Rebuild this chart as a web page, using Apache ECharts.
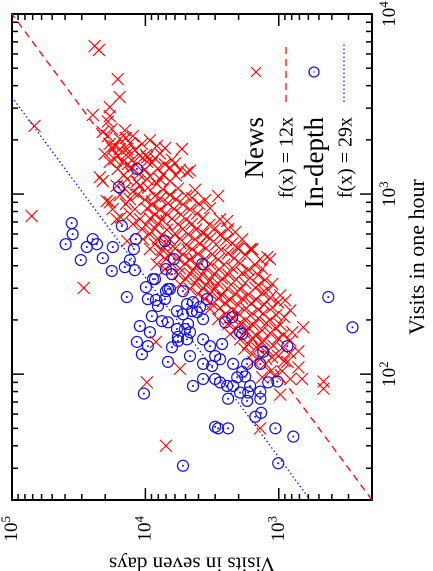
<!DOCTYPE html>
<html>
<head>
<meta charset="utf-8">
<script src="https://cdn.jsdelivr.net/npm/echarts@6/dist/echarts.min.js"></script>
<style>
html, body { margin: 0; padding: 0; background: #fff; overflow: hidden; }
/* the figure is a landscape plot turned a quarter turn to the left */
#turn { position: absolute; left: 0; top: 0; width: 571px; height: 433px;
  transform-origin: 0 0; transform: translateY(571px) rotate(-90deg); }
#chart { width: 571px; height: 433px; }
</style>
</head>
<body>
<div id="turn"><div id="chart"></div></div>
<script>
// ---------- DATA ----------
// [visits in one hour, visits in seven days]
var newsPoints = [
	[6640,24000],[6310,22300],[4350,16100],[3460,15600],[3040,18500],[2750,24800],[2530,19100],[2710,18500],[2390,67800],[2100,12400],[2100,19100],[1850,17000],[1900,10600],[1850,8200],[1780,5320],[1630,16100],[1510,18500],[1510,14800],[1510,9700],[1240,22000],[1180,20900],[1110,16400],[1110,11000],[1140,8200],[1180,6540],[1320,4870],[1350,4630],[1030,12400],[1780,13700],[1630,11000],[1600,9700],[2210,20900],[1780,17600],[1210,13700],[1170,11600],[1210,9700],[1210,7780],
	[914,19500],[825,17600],[726,16400],[900,18500],[742,15300],[548,13700],[408,8200],[514,6210],[755,71300],[301,29000],[975,2850],[708,2440],[615,2120],[447,1220],[495,1640],[505,2050],[585,3450],[435,1160],[435,1380],[495,1590],[182,655],[171,793],[134,713],[109,713],[94,670],[91,462],[83,462],[77,975],[104,942],[50,1380],[117,863],[103,1160],[114,1260],[117,1550],[151,8340],[90,9750],[40,7020],[107,5500],
	[2300,17860],[2260,14260],[2020,15550],[2050,14020],[1990,9250],[1900,18500],[1920,13080],[1780,15550],[1760,11990],[1800,7135],[1670,20200],[1690,13540],[1650,9910],[1680,7780],[1560,17000],[1540,12640],[1580,8480],[1550,6320],
	[1470,13540],[1455,11790],[1490,8940],[1462,7135],[1480,6000],
	[1380,16100],[1395,12850],[1370,10090],[1385,8055],[1400,6545],[1365,5505],
	[1275,14510],[1290,11190],[1260,9250],[1280,7390],[1270,5900],
	[1070,14260],[1085,9580],[1060,7390],[1075,5695],[1055,4245],
	[987,15550],[995,11390],[975,8480],[990,6545],[980,4960],
	[938,13080],[930,10090],[945,7780],[935,5900],[950,4470],[925,3570],
	[880,14020],[872,8940],[888,6775],[876,5225],[884,3960],
	[825,11990],[832,9740],[818,7780],[828,6105],[820,4630],[835,3275],
	[774,13080],[768,8480],[780,7015],[771,5410],[778,4100],
	[726,11000],[732,9250],[720,7515],[729,6320],[722,4960],[735,3695],[724,2755],
	[681,12420],[676,9910],[686,8055],[679,5695],[684,4470],[674,3330],
	[639,10620],[644,8480],[634,6895],[641,5225],[636,4170],[646,3000],[638,2400],
	[599,9250],[594,7515],[603,6000],[597,4790],[605,3695],[592,2755],
	[562,10440],[566,8055],[558,6545],[564,5505],[560,4245],[568,3275],[556,2480],[561,1880],
	[527,8480],[531,7015],[523,4960],[529,3895],[525,2950],[533,2235],
	[495,9250],[492,7515],[498,6000],[494,4470],[500,3510],[490,2705],[496,2015],[493,1580],
	[464,7780],[467,6545],[461,5225],[466,4030],[462,3160],[469,2400],[460,1785],
	[435,7015],[438,5695],[432,4630],[437,3570],[433,2850],[440,2160],
	[408,6320],[411,5050],[405,4100],[410,3275],[406,2570],[412,1950],[404,1500],
	[383,7135],[386,5505],[380,4395],[385,3510],[381,2800],[388,2235],[379,1695],[384,1330],
	[359,5695],[362,4630],[356,3760],[361,3055],[357,2400],[364,1880],[355,1425],
	[337,4960],[340,4030],[334,3275],[339,2660],[335,2085],[342,1640],[333,1265],
	[316,5505],[319,4245],[313,3510],[318,2850],[314,2275],[321,1785],[312,1425],[317,1120],
	[297,4630],[300,3695],[294,3055],[299,2440],[295,1950],[302,1500],[293,1200],
	[278,4030],[281,3275],[275,2660],[280,2125],[276,1695],[283,1330],[274,975],
	[261,3570],[264,2850],[258,2315],[263,1880],[259,1475],[266,1160],[257,894],
	[245,3160],[248,2525],[242,2015],[247,1610],[243,1285],[250,1010],
	[230,3275],[233,2755],[227,2200],[232,1755],[228,1425],[235,1120],[226,820],
	[215,2525],[218,2015],[212,1640],[217,1310],[213,1045],
	[202,2850],[205,2235],[199,1785],[204,1425],[200,1160],[207,909],
	[190,2400],[193,1950],[187,1555],[192,1240],[188,975],
	[178,2085],[181,1695],[175,1330],[180,1060],
	[167,2315],[170,1815],[164,1475],[169,1160],[165,925],
	[156,1950],[159,1580],[153,1285],[158,1010],[154,820],
	[147,1695],[150,1330],[144,1100],
	[138,1815],[141,1475],[135,1200],[140,940],
	[129,1580],[132,1240],[126,1010],[131,820],
	[121,1380],[124,1120],[118,909],
	[96,1330],[99,1060],[94,820]
];

var indepthPoints = [
	[1380,11580],[1094,15820],[690,35700],[664,15020],[599,35100],[527,39600],[508,27500],[562,24800],[527,23100],[508,17550],[430,30500],[441,20870],[374,17860],[562,11790],[495,12200],[430,13080],[393,14260],[378,11990],[337,8480],[304,9910],[268,13770],[261,9580],[258,8340],[239,8055],[297,6545],[289,7015],[210,8940],[185,11000],[197,7515],[194,6775],
	[548,7135],[435,6105],[383,7015],[359,6320],[224,5800],[408,3760],[337,8780],[297,6775],[289,5225],[261,7135],[245,4875],[251,4395],[236,3895],[261,3450],[224,4470],[221,4100],[215,5225],[190,4790],[202,3695],[178,5800],[178,5050],[171,4630],[161,5695],[156,4875],[141,6320],[126,4630],[156,3695],[143,3275],[147,2660],[194,2525],[207,2235],[167,1880],[133,1310],[143,863],
	[126,3000],[121,2755],[114,3695],[111,3160],[114,2200],[103,1880],[86,4395],[94,3695],[94,3000],[86,2200],[86,1640],[90,1200],[268,425],[182,280],[114,1375],[114,1725],[97,1785],[91,1025],[79,1695],[80,1375],[73,1375],[71,1725],[58,1500],[61,1355],[50,1060],[45,778],[32,1010],[171,1950],
	[90,2755],[86,2440],[79,1950],[73,2400],[51,3000],[50,2850],[50,2400],[31,5225],[96,2050],[151,11580],[129,10620],[143,9580],[171,9250],[117,6775],[153,5695],[78,10260]
];

// fitted lines y = slope * x (the red one is drawn at about 10x in the figure)
var fitRange = [20, 10000];
var newsSlope = 10;
var indepthSlope = 29;

// axis extents and ticks
var hourRange = [20, 10000];
var sevenRange = [200, 100000];
var hourMajor = [100, 1000];
var hourMinor = [30, 40, 50, 60, 70, 80, 90, 200, 300, 400, 500, 600, 700, 800, 900, 2000, 3000, 4000, 5000, 6000, 7000, 8000, 9000];
var sevenMajor = [1000, 10000];
var sevenMinor = [300, 400, 500, 600, 700, 800, 900, 2000, 3000, 4000, 5000, 6000, 7000, 8000, 9000, 20000, 30000, 40000, 50000, 60000, 70000, 80000, 90000];

var legendNames = ['News', 'f(x) = 12x', 'In-depth', 'f(x) = 29x'];

// ---------- CHART ----------
var RED = '#ff0000';
var BLUE = '#1212d8';
var FONT = '"Liberation Serif", "DejaVu Serif", serif';
var CROSS = 'path://M0,0L10,10M0,10L10,0';
var RING = 'path://M0,5A5,5,0,1,0,10,5A5,5,0,1,0,0,5ZM4.6,5A0.4,0.4,0,1,0,5.4,5A0.4,0.4,0,1,0,4.6,5Z';
var MAJOR_LEN = 12, MINOR_LEN = 6;
var GRID = {left: 71, right: 14, top: 12, bottom: 61};
var W = 571, H = 433;

var chart = echarts.init(document.getElementById('chart'), null, {renderer: 'canvas', devicePixelRatio: 2});

function powLabel(v) {
	var l = Math.log10(v);
	var e = Math.round(l);
	if (Math.abs(l - e) > 1e-6) return '';
	return '{b|10}{s|' + e + '}';
}

var labelRich = {
	b: {fontSize: 19, fontFamily: FONT, color: '#000', lineHeight: 24},
	s: {fontSize: 13, fontFamily: FONT, color: '#000', verticalAlign: 'top', lineHeight: 24}
};

function fitLine(slope) {
	return fitRange.map(function (x) { return [x, slope * x]; });
}

// inward ticks on all four sides, on the same log scale as the grid
function logFrac(v, range) {
	return (Math.log10(v) - Math.log10(range[0])) / (Math.log10(range[1]) - Math.log10(range[0]));
}

var tickGraphics = [];
var plotW = W - GRID.left - GRID.right, plotH = H - GRID.top - GRID.bottom;

function tickRect(x, y, w, h) {
	return {type: 'rect', shape: {x: x, y: y, width: w, height: h}, style: {fill: '#000'}, z: 100};
}

hourMajor.concat(hourMinor).forEach(function (v) {
	var len = hourMajor.indexOf(v) >= 0 ? MAJOR_LEN : MINOR_LEN;
	var x = GRID.left + logFrac(v, hourRange) * plotW;
	tickGraphics.push(tickRect(x - 0.75, H - GRID.bottom - len, 1.5, len));
	tickGraphics.push(tickRect(x - 0.75, GRID.top, 1.5, len));
});

sevenMajor.concat(sevenMinor).forEach(function (v) {
	var len = sevenMajor.indexOf(v) >= 0 ? MAJOR_LEN : MINOR_LEN;
	var y = H - GRID.bottom - logFrac(v, sevenRange) * plotH;
	tickGraphics.push(tickRect(GRID.left, y - 0.75, len, 1.5));
	tickGraphics.push(tickRect(W - GRID.right - len, y - 0.75, len, 1.5));
});

var keyGraphics = [
	{type: 'text', x: 454, y: 256, style: {text: legendNames[0], fontSize: 27, fontFamily: FONT, fill: '#000', align: 'right', verticalAlign: 'middle'}},
	{type: 'line', shape: {x1: 494, y1: 251, x2: 504, y2: 261}, style: {stroke: RED, lineWidth: 1.1}},
	{type: 'line', shape: {x1: 494, y1: 261, x2: 504, y2: 251}, style: {stroke: RED, lineWidth: 1.1}},
	{type: 'text', x: 454, y: 287, style: {text: legendNames[1], fontSize: 20, fontFamily: FONT, fill: '#000', align: 'right', verticalAlign: 'middle'}},
	{type: 'line', shape: {x1: 469, y1: 286, x2: 529, y2: 286}, style: {stroke: RED, lineWidth: 1.3, lineDash: [7, 5]}},
	{type: 'text', x: 454, y: 316, style: {text: legendNames[2], fontSize: 27, fontFamily: FONT, fill: '#000', align: 'right', verticalAlign: 'middle'}},
	{type: 'circle', shape: {cx: 499, cy: 314, r: 5}, style: {fill: 'none', stroke: BLUE, lineWidth: 1.2}},
	{type: 'circle', shape: {cx: 499, cy: 314, r: 0.7}, style: {fill: BLUE}},
	{type: 'text', x: 454, y: 346, style: {text: legendNames[3], fontSize: 20, fontFamily: FONT, fill: '#000', align: 'right', verticalAlign: 'middle'}},
	{type: 'line', shape: {x1: 469, y1: 344, x2: 529, y2: 344}, style: {stroke: BLUE, lineWidth: 1.3, lineDash: [1.5, 2.5]}}
];

var frameLine = {show: true, lineStyle: {color: '#000', width: 2}};

var option = {
	animation: false,
	backgroundColor: '#fff',
	grid: {left: GRID.left, right: GRID.right, top: GRID.top, bottom: GRID.bottom, containLabel: false, outerBoundsMode: 'none'},
	graphic: {elements: keyGraphics.concat(tickGraphics)},
	xAxis: [
		{
			type: 'log', min: hourRange[0], max: hourRange[1], position: 'bottom',
			name: 'Visits in one hour', nameLocation: 'middle', nameGap: 35,
			nameTextStyle: {fontSize: 22, fontFamily: FONT, color: '#000'},
			axisLine: frameLine, axisTick: {show: false}, splitLine: {show: false},
			axisLabel: {margin: 6, formatter: powLabel, rich: labelRich, showMinLabel: false}
		},
		{
			type: 'log', min: hourRange[0], max: hourRange[1], position: 'top',
			axisLine: frameLine, axisTick: {show: false}, splitLine: {show: false}, axisLabel: {show: false}
		}
	],
	yAxis: [
		{
			type: 'log', min: sevenRange[0], max: sevenRange[1], position: 'left',
			name: 'Visits in seven days', nameLocation: 'middle', nameGap: 38, nameRotate: 90,
			nameTextStyle: {fontSize: 21, fontFamily: FONT, color: '#000'},
			axisLine: frameLine, axisTick: {show: false}, splitLine: {show: false},
			axisLabel: {margin: 16, formatter: powLabel, rich: labelRich, showMinLabel: false}
		},
		{
			type: 'log', min: sevenRange[0], max: sevenRange[1], position: 'right',
			axisLine: frameLine, axisTick: {show: false}, splitLine: {show: false}, axisLabel: {show: false}
		}
	],
	series: [
		{
			name: legendNames[0], type: 'scatter', data: newsPoints,
			symbol: CROSS, symbolSize: 12,
			itemStyle: {color: 'rgba(0,0,0,0)', borderColor: RED, borderWidth: 1.1, opacity: 1}
		},
		{
			name: legendNames[1], type: 'line', data: fitLine(newsSlope), showSymbol: false,
			lineStyle: {color: RED, width: 1.3, type: [7, 5]}
		},
		{
			name: legendNames[2], type: 'scatter', data: indepthPoints,
			symbol: RING, symbolSize: 11,
			itemStyle: {color: 'rgba(0,0,0,0)', borderColor: BLUE, borderWidth: 1.2, opacity: 1}
		},
		{
			name: legendNames[3], type: 'line', data: fitLine(indepthSlope), showSymbol: false,
			lineStyle: {color: BLUE, width: 1.3, type: [1.5, 2.5]}
		}
	]
};

chart.setOption(option);
</script>
</body>
</html>
